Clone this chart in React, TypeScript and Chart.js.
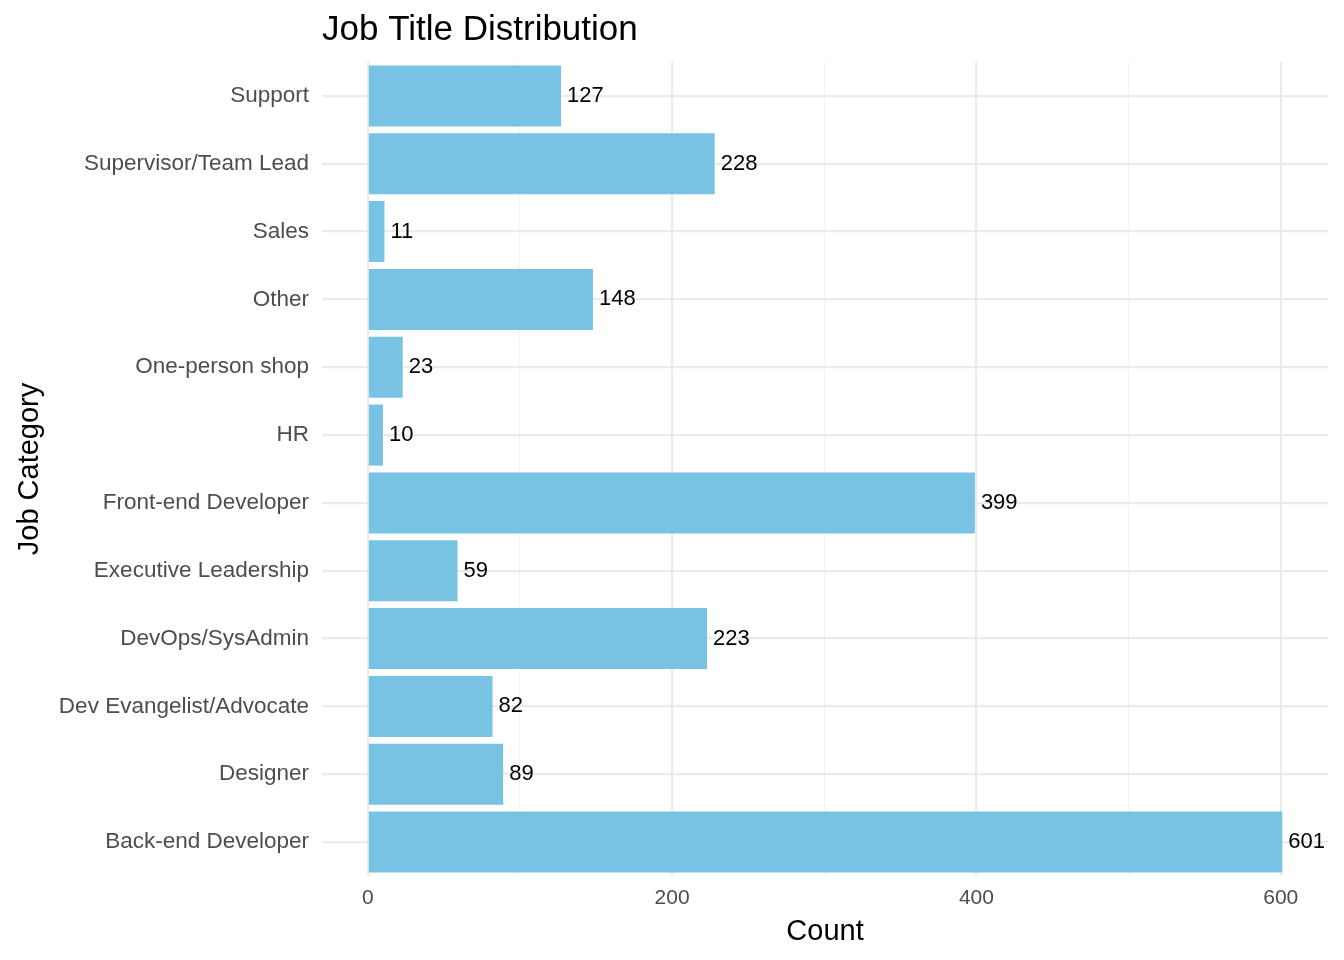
import React, { useRef, useEffect } from 'react';
import { Chart, registerables, Plugin } from 'chart.js';

Chart.register(...registerables);

const categories = [
  'Support', 'Supervisor/Team Lead', 'Sales', 'Other', 'One-person shop', 'HR',
  'Front-end Developer', 'Executive Leadership', 'DevOps/SysAdmin',
  'Dev Evangelist/Advocate', 'Designer', 'Back-end Developer',
];
const counts = [127, 228, 11, 148, 23, 10, 399, 59, 223, 82, 89, 601];
const xTicks = [0, 100, 200, 300, 400, 500, 600];
const xLabels = [0, 200, 400, 600];

const FONT = 'Helvetica, Arial, "Liberation Sans", sans-serif';

const decorations: Plugin = {
  id: 'decorations',
  afterDatasetsDraw(chart) {
    const ctx = chart.ctx;
    const meta = chart.getDatasetMeta(0);
    ctx.save();
    ctx.fillStyle = '#000';
    ctx.font = `22px ${FONT}`;
    ctx.textBaseline = 'middle';
    ctx.textAlign = 'left';
    meta.data.forEach((bar: any, i) => {
      ctx.fillText(String(counts[i]), bar.x + 6, bar.y);
    });
    // titles
    ctx.font = `35px ${FONT}`;
    ctx.textBaseline = 'alphabetic';
    ctx.fillText('Job Title Distribution', chart.chartArea.left, 40);
    ctx.font = `29px ${FONT}`;
    ctx.textAlign = 'center';
    ctx.fillText('Count', (chart.chartArea.left + chart.chartArea.right) / 2, 940);
    ctx.translate(38, (chart.chartArea.top + chart.chartArea.bottom) / 2);
    ctx.rotate(-Math.PI / 2);
    ctx.fillText('Job Category', 0, 0);
    ctx.restore();
  },
};

const App: React.FC = () => {
  const ref = useRef<HTMLCanvasElement>(null);
  useEffect(() => {
    if (!ref.current) return;
    const chart = new Chart(ref.current, {
      type: 'bar',
      data: {
        labels: categories,
        datasets: [{ data: counts, backgroundColor: '#78C2E4', categoryPercentage: 0.9, barPercentage: 1 }],
      },
      options: {
        indexAxis: 'y',
        animation: false,
        responsive: false,
        layout: { padding: { top: 62, right: 16, left: 0, bottom: 0 } },
        plugins: { legend: { display: false }, tooltip: { enabled: false }, title: { display: false } },
        scales: {
          x: {
            min: -30.05,
            max: 631.05,
            afterBuildTicks: (s: any) => { s.ticks = xTicks.map((v) => ({ value: v })); },
            afterFit: (s: any) => { s.height = 84; },
            border: { display: false },
            grid: {
              drawTicks: false,
              color: (c: any) => (c.tick && c.tick.value % 200 === 0 ? '#EBEBEB' : '#F3F3F3'),
              lineWidth: (c: any) => (c.tick && c.tick.value % 200 === 0 ? 2.2 : 1.1),
            },
            ticks: {
              color: '#4D4D4D',
              font: { size: 21, family: FONT },
              padding: 10,
              autoSkip: false,
              maxRotation: 0,
              callback: (v: any) => (xLabels.includes(Number(v)) ? String(v) : ''),
            },
          },
          y: {
            afterFit: (s: any) => { s.width = 322; },
            border: { display: false },
            grid: { offset: false, drawTicks: false, color: '#EBEBEB', lineWidth: 2.2 },
            ticks: { color: '#4D4D4D', font: { size: 22.5, family: FONT }, padding: 13, autoSkip: false },
          },
        },
      },
      plugins: [decorations],
    });
    return () => chart.destroy();
  }, []);
  return (
    <div style={{ width: 1344, height: 960, margin: -8 }}>
      <canvas ref={ref} width={1344} height={960} style={{ display: 'block' }} />
    </div>
  );
};

export default App;
